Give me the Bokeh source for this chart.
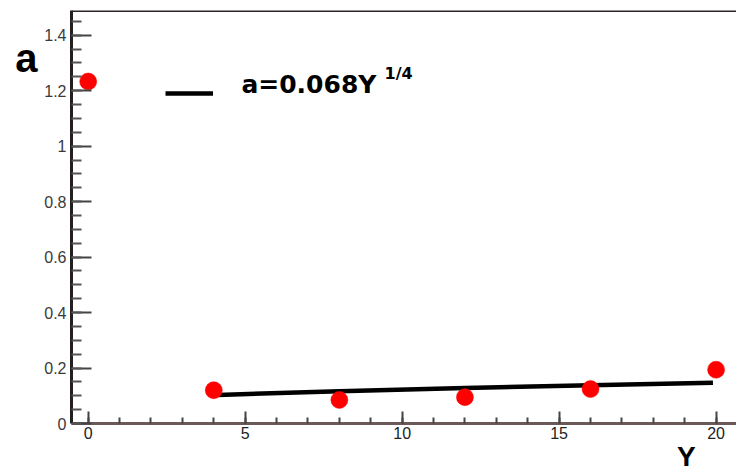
from bokeh.plotting import figure
from bokeh.models import (Range1d, FixedTicker, Span, Label, Legend, LegendItem,
                          LinearAxis)
from bokeh.core.properties import value
from bokeh.embed import file_html
from bokeh.resources import INLINE

# ---- data ----
Y_obs = [0, 4, 8, 12, 16, 20]
a_obs = [1.233, 0.120, 0.085, 0.095, 0.124, 0.194]

Y_fit = [4.13, 8, 12, 16, 19.9]
a_fit = [0.103, 0.116, 0.128, 0.138, 0.147]

x_ticks = [0, 5, 10, 15, 20]
x_minor = list(range(0, 21))
y_ticks = [0, 0.2, 0.4, 0.6, 0.8, 1.0, 1.2, 1.4]
y_tick_labels = ["0", "0.2", "0.4", "0.6", "0.8", "1", "1.2", "1.4"]
y_minor = [i * 0.05 for i in range(0, 30)]

legend_label = "a=0.068Y"
legend_sup = "1/4"
y_title = "a"
x_title = "Y"

# ---- layout constants ----
X_START, X_END = -0.532, 20.65
Y_START, Y_END = 0, 1.489
Y_TITLE_AT = 1.318      # vertical place of the "a" title
X_TITLE_AT = 19.05      # horizontal place of the "Y" title
FONT = "Liberation Sans"

p = figure(width=736, height=474, output_backend="svg", toolbar_location=None,
           x_range=Range1d(X_START, X_END), y_range=Range1d(Y_START, Y_END),
           min_border_left=71, min_border_right=0, min_border_top=10,
           min_border_bottom=45)
p.outline_line_color = None
p.xgrid.visible = False
p.ygrid.visible = False
p.background_fill_color = "white"

# axes
xa = p.xaxis[0]
xa.ticker = FixedTicker(ticks=x_ticks, minor_ticks=x_minor)
xa.axis_line_width = 3
xa.axis_line_color = "#6b5858"
xa.major_tick_in = 12
xa.major_tick_out = 0
xa.minor_tick_in = 6
xa.minor_tick_out = 0
xa.major_tick_line_color = "#444444"
xa.minor_tick_line_color = "#444444"
xa.major_tick_line_width = 2
xa.minor_tick_line_width = 2
xa.major_label_text_font = FONT
xa.major_label_text_font_size = "16px"
xa.major_label_text_color = "#222222"
xa.major_label_standoff = 3

ya = p.yaxis[0]
ya.ticker = FixedTicker(ticks=y_ticks, minor_ticks=y_minor)
ya.major_label_overrides = {t: l for t, l in zip(y_ticks, y_tick_labels)}
ya.axis_line_width = 3
ya.axis_line_color = "#231f20"
ya.major_tick_in = 20
ya.major_tick_out = 0
ya.minor_tick_in = 10
ya.minor_tick_out = 0
ya.major_tick_line_color = "#444444"
ya.minor_tick_line_color = "#555555"
ya.major_tick_line_width = 2
ya.minor_tick_line_width = 2
ya.major_label_text_font = FONT
ya.major_label_text_font_size = "16px"
ya.major_label_text_color = "#3a3a3a"
ya.major_label_standoff = 5

# axis titles, placed as single-tick axes so they sit outside the frame
a_axis = LinearAxis(ticker=FixedTicker(ticks=[Y_TITLE_AT], minor_ticks=[]),
                    major_label_overrides={Y_TITLE_AT: y_title},
                    axis_line_color=None, major_tick_line_color=None,
                    minor_tick_line_color=None,
                    major_label_text_font=FONT,
                    major_label_text_font_size="40px",
                    major_label_text_font_style="bold",
                    major_label_text_color="black",
                    major_label_standoff=-2)
p.add_layout(a_axis, "left")

y_axis_title = LinearAxis(ticker=FixedTicker(ticks=[X_TITLE_AT], minor_ticks=[]),
                          major_label_overrides={X_TITLE_AT: x_title},
                          axis_line_color=None, major_tick_line_color=None,
                          minor_tick_line_color=None,
                          major_label_text_font=FONT,
                          major_label_text_font_size="28px",
                          major_label_text_font_style="bold",
                          major_label_text_color="black",
                          major_label_standoff=-7)
p.add_layout(y_axis_title, "below")

# top frame border
p.add_layout(Span(location=Y_END, dimension="width", line_color="#2d2424",
                  line_width=3))

# fit line
fit = p.line(Y_fit, a_fit, line_color="black", line_width=4.5)

# observations
p.scatter(Y_obs, a_obs, size=17, fill_color="#ff0000", line_color="#ff0000",
          line_width=0.5)

# legend: line sample, with its text as labels
leg = Legend(items=[LegendItem(label=value(""), renderers=[fit])],
             location=(94, 313), padding=0, margin=0, spacing=0,
             glyph_width=48, glyph_height=30, label_height=34,
             label_standoff=0, border_line_color=None,
             background_fill_alpha=0, label_text_font_size="10px")
p.add_layout(leg)

p.add_layout(Label(x=4.88, y=1.2214, text=legend_label, text_font="DejaVu Sans",
                   text_font_size="25px", text_font_style="bold",
                   text_color="black", text_baseline="alphabetic"))
p.add_layout(Label(x=9.44, y=1.2616, text=legend_sup, text_font="DejaVu Sans",
                   text_font_size="16px", text_font_style="bold",
                   text_color="black", text_baseline="alphabetic"))

open("out.html", "w").write(file_html(p, INLINE))
